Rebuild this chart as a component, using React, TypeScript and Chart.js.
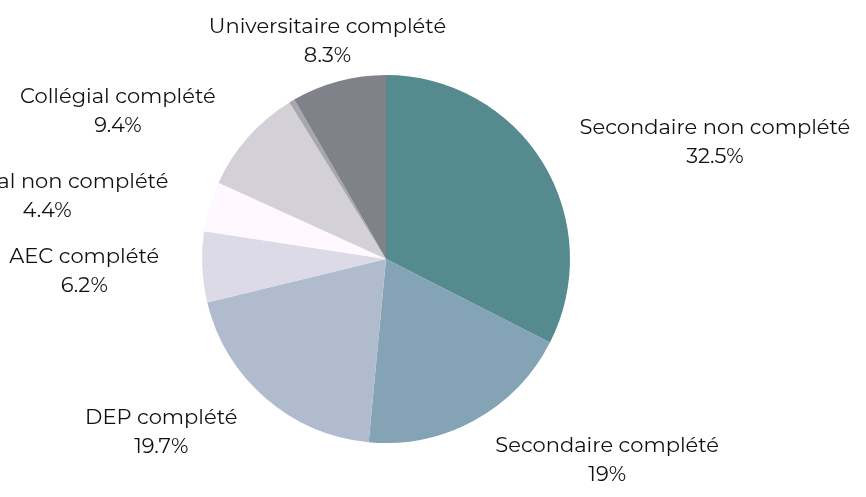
import React, { useEffect, useRef } from "react";
import { Chart, registerables } from "chart.js";

Chart.register(...registerables);

const categories = [
  "Secondaire non complété",
  "Secondaire complété",
  "DEP complété",
  "AEC complété",
  "Collégial non complété",
  "Collégial complété",
  "Autre",
  "Universitaire complété",
];
const values = [32.5, 19, 19.7, 6.2, 4.4, 9.4, 0.5, 8.3];
const valueLabels = ["32.5%", "19%", "19.7%", "6.2%", "4.4%", "9.4%", "", "8.3%"];
const colors = [
  "#558b8f",
  "#84a3b4",
  "#b0bbce",
  "#dcdae7",
  "#fff8fe",
  "#d3d0d8",
  "#a8a7ad",
  "#7f8389",
];

const FONT = "21px Montserrat, 'DejaVu Sans', sans-serif";

const outsideLabels = {
  id: "outsideLabels",
  afterDraw(chart: any) {
    const ctx = chart.ctx;
    const meta = chart.getDatasetMeta(0);
    ctx.save();
    ctx.font = FONT;
    ctx.fillStyle = "#111111";
    ctx.textBaseline = "middle";
    meta.data.forEach((arc: any, i: number) => {
      if (!valueLabels[i]) return;
      const p = arc.getProps(["x", "y", "startAngle", "endAngle", "outerRadius"], true);
      const mid = (p.startAngle + p.endAngle) / 2;
      const R = p.outerRadius + 43;
      const ax = p.x + Math.cos(mid) * R;
      const ay = p.y + Math.sin(mid) * R + 2;
      const lines = [categories[i], valueLabels[i]];
      const bw = Math.max(...lines.map((l) => ctx.measureText(l).width));
      const c = Math.cos(mid);
      let cx: number;
      if (Math.abs(c) < 0.3) cx = ax;
      else if (c > 0) cx = ax + bw / 2;
      else cx = ax - bw / 2;
      ctx.textAlign = "center";
      ctx.fillText(lines[0], cx, ay - 14.5);
      ctx.fillText(lines[1], cx, ay + 14.5);
    });
    ctx.restore();
  },
};

export default function App() {
  const ref = useRef<HTMLCanvasElement | null>(null);
  useEffect(() => {
    document.body.style.margin = "0";
    const chart = new Chart(ref.current as HTMLCanvasElement, {
      type: "pie",
      data: {
        labels: categories,
        datasets: [
          {
            data: values,
            backgroundColor: colors,
            borderWidth: 0,
          },
        ],
      },
      options: {
        responsive: false,
        animation: false,
        layout: { padding: { top: 75, bottom: 54, left: 202, right: 296 } },
        plugins: {
          legend: { display: false },
          tooltip: { enabled: false },
        },
      },
      plugins: [outsideLabels],
    });
    return () => chart.destroy();
  }, []);
  return (
    <div style={{ width: 866, height: 497, background: "#fff" }}>
      <canvas ref={ref} width={866} height={497} />
    </div>
  );
}
